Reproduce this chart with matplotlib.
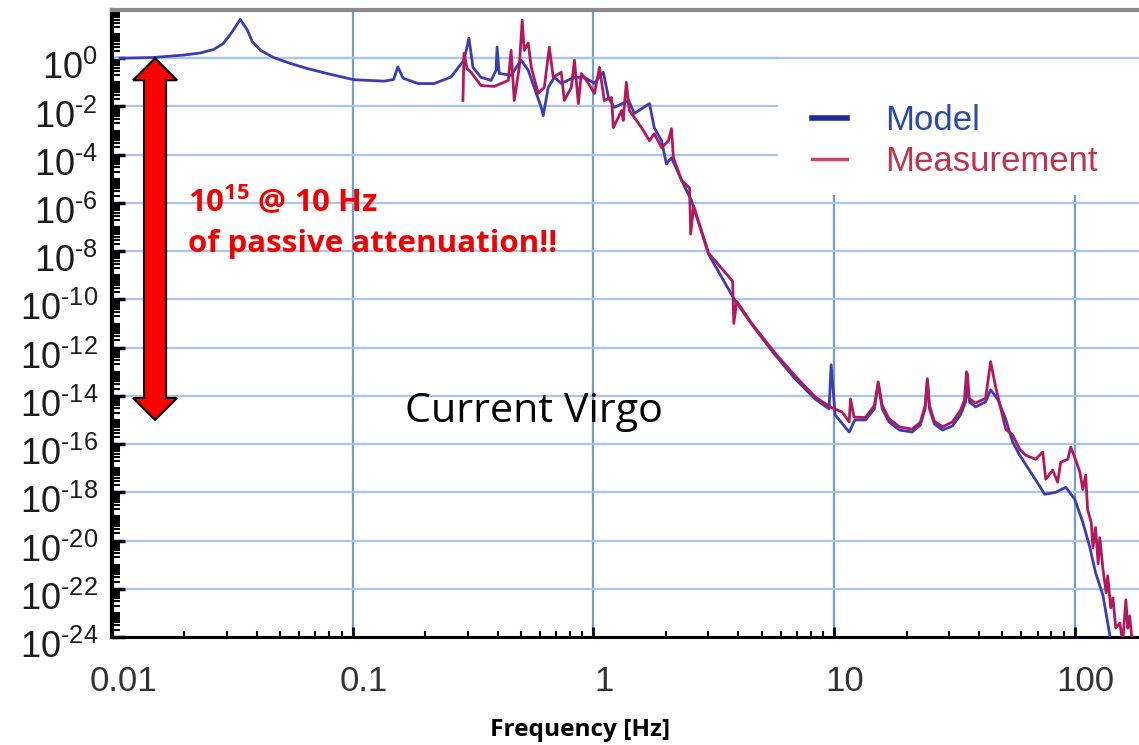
import numpy as np
import matplotlib
matplotlib.use("Agg")
import matplotlib.pyplot as plt
from matplotlib.lines import Line2D
from matplotlib.patches import Polygon, Rectangle
from matplotlib.ticker import LogLocator, NullFormatter
from matplotlib.transforms import IdentityTransform, ScaledTranslation

# transfer function: frequency [Hz], log10 of amplitude
model_freq = [
    0.0108, 0.0148, 0.0198, 0.0233, 0.0264, 0.029, 0.0316, 0.0341, 0.0365, 0.0383,
    0.0414, 0.0469, 0.0552, 0.065, 0.0787, 0.101, 0.135, 0.148, 0.154, 0.162,
    0.187, 0.218, 0.256, 0.290, 0.304, 0.316, 0.341, 0.376, 0.394, 0.398,
    0.406, 0.455, 0.501, 0.536, 0.607, 0.619, 0.649, 0.688, 0.735, 0.834,
    0.917, 1.01, 1.10, 1.155, 1.22, 1.40, 1.48, 1.71, 1.79, 1.92,
    2.01, 2.11, 2.33, 2.56, 3.01, 3.83, 4.55, 5.67, 6.88, 8.33,
    9.53, 9.72, 10.1, 11.55, 12.2, 13.5, 14.7, 15.25, 15.85, 16.9,
    18.7, 21.1, 22.8, 23.9, 24.4, 24.9, 26.1, 28.2, 31.0, 33.5,
    35.2, 35.8, 36.5, 38.7, 42.6, 44.7, 47.8, 51.6, 55.2, 59.0,
    66.8, 75.0, 83.4, 91.7, 100, 108, 115, 122, 131, 140,
    144,
]
model_log_amp = [
    0.0, 0.03, 0.13, 0.22, 0.36, 0.61, 1.1, 1.61, 1.17, 0.68,
    0.33, 0.03, -0.22, -0.43, -0.64, -0.89, -0.95, -0.88, -0.36, -0.83,
    -1.05, -1.05, -0.78, -0.08, 0.83, -0.38, -0.79, -0.92, -0.5, 0.46,
    -0.63, -0.71, -0.08, -0.5, -2.04, -2.38, -1.21, -0.79, -1.04, -0.79,
    -0.79, -1.04, -0.58, -1.63, -2.04, -1.75, -2.29, -1.88, -2.88, -3.42,
    -4.38, -4.13, -5.08, -5.92, -8.13, -9.96, -11.04, -12.29, -13.29, -14.13,
    -14.54, -12.71, -14.79, -15.5, -15.0, -15.0, -14.54, -13.5, -14.54, -15.08,
    -15.42, -15.5, -15.21, -14.54, -13.33, -14.54, -15.17, -15.42, -15.25, -14.79,
    -14.25, -13.08, -14.25, -14.46, -14.25, -13.75, -14.13, -14.96, -15.92, -16.46,
    -17.29, -18.08, -18.0, -17.79, -18.29, -19.25, -20.21, -21.33, -22.29, -23.96,
    -24.5,
]

meas_freq = [
    0.287, 0.290, 0.2985, 0.310, 0.341, 0.387, 0.443, 0.455, 0.469, 0.492,
    0.506, 0.516, 0.536, 0.552, 0.590, 0.625, 0.656, 0.681, 0.735, 0.757,
    0.81, 0.834, 0.866, 0.891, 0.953, 1.01, 1.06, 1.11, 1.19, 1.21,
    1.31, 1.33, 1.37, 1.41, 1.585, 1.71, 1.79, 1.92, 2.05, 2.11,
    2.15, 2.33, 2.51, 2.535, 2.61, 3.01, 3.79, 3.83, 3.94, 4.55,
    5.67, 6.88, 8.33, 9.63, 10.8, 11.55, 11.7, 12.1, 13.5, 14.7,
    15.25, 15.85, 16.9, 18.7, 21.1, 22.8, 23.9, 24.4, 24.9, 26.1,
    28.2, 31.0, 33.5, 34.8, 35.5, 36.3, 38.7, 42.6, 44.7, 46.9,
    51.6, 55.2, 59.0, 62.5, 68.8, 73.6, 75.7, 80.9, 84.9, 87.4,
    93.5, 96.2, 101, 105, 108, 111, 113, 117, 119, 122,
    125, 127, 131, 135, 137, 141, 144, 148, 154, 158,
    163, 166, 169, 175,
]
meas_log_amp = [
    -1.75, 0.21, -0.42, -0.58, -1.13, -1.17, -0.92, 0.33, -1.75, -0.38,
    1.58, 0.33, 0.63, -0.38, -1.46, -1.21, 0.46, -0.79, -0.58, -1.75,
    -1.21, -0.08, -1.88, -0.63, -1.04, -1.46, -0.38, -1.75, -1.63, -2.88,
    -2.17, -2.58, -1.0, -2.17, -2.88, -3.42, -3.13, -3.71, -3.42, -2.92,
    -4.13, -5.08, -5.38, -7.29, -6.13, -8.08, -9.25, -11.0, -10.08, -11.0,
    -12.21, -13.17, -14.04, -14.46, -14.67, -15.08, -14.13, -14.88, -14.9, -14.4,
    -13.42, -14.4, -14.95, -15.29, -15.38, -15.1, -14.4, -13.29, -14.4, -15.05,
    -15.29, -15.08, -14.6, -14.17, -13.0, -14.1, -14.3, -14.1, -12.58, -13.63,
    -15.38, -15.63, -16.21, -16.46, -16.63, -16.33, -17.46, -17.08, -17.58, -16.75,
    -16.63, -16.13, -16.67, -17.17, -17.88, -17.29, -18.71, -19.25, -20.3, -19.46,
    -20.96, -19.88, -21.21, -22.17, -21.46, -22.79, -22.38, -23.63, -23.42, -24.25,
    -22.46, -23.63, -23.13, -24.67,
]

x_ticks = [0.01, 0.1, 1, 10, 100]
x_tick_labels = ["0.01", "0.1", "1", "10", "100"]
y_exponents = list(range(0, -25, -2))

arrow_freq = 0.0151
arrow_top, arrow_bottom = 1e0, 1e-15

plt.rcParams["mathtext.fontset"] = "custom"
plt.rcParams["mathtext.rm"] = "Liberation Sans"
plt.rcParams["mathtext.bf"] = "Open Sans:bold"

W, H = 1139, 745
GRID_H = "#a9c6ea"
fig = plt.figure(figsize=(W / 100, H / 100), dpi=100)
ax = fig.add_axes([112 / W, 1 - 637 / H, 1027 / W, 627 / H])
ax.set_xscale("log")
ax.set_yscale("log")
ax.set_xlim(0.01, 10 ** (-2 + 1027 / 240.7))
ax.set_ylim(1e-24, 1e2)
ax.set_axisbelow(True)


def exp_label(e):
    # short hyphen instead of the long math minus, as in the original figure
    if e < 0:
        return r"$\mathregular{10^{\text{-}%d}}$" % (-e)
    return r"$\mathregular{10^{%d}}$" % e


ax.set_xticks(x_ticks)
ax.set_xticklabels(x_tick_labels, fontfamily="Liberation Sans")
ax.set_yticks([10.0 ** e for e in y_exponents])
ax.set_yticklabels([exp_label(e) for e in y_exponents], fontfamily="Liberation Sans")
ax.yaxis.set_minor_locator(LogLocator(base=10, subs=np.arange(1, 10), numticks=400))
ax.yaxis.set_minor_formatter(NullFormatter())
ax.xaxis.set_minor_locator(LogLocator(base=10, subs=np.arange(2, 10), numticks=50))
ax.xaxis.set_minor_formatter(NullFormatter())

ax.tick_params(axis="y", which="major", direction="in", length=9, width=2.5,
               labelsize=26, pad=10, labelcolor="#1c1c1c")
ax.tick_params(axis="y", which="minor", direction="in", length=6, width=1.5)
ax.tick_params(axis="x", which="major", direction="in", length=7, width=2,
               labelsize=25, pad=20, labelcolor="#333333")
ax.tick_params(axis="x", which="minor", direction="in", length=4, width=1.5)
x_shift = ScaledTranslation(0.11, 0, fig.dpi_scale_trans)
for lbl in ax.get_xticklabels():
    lbl.set_transform(lbl.get_transform() + x_shift)
y_shift = ScaledTranslation(0, -0.07, fig.dpi_scale_trans)
for lbl in ax.get_yticklabels():
    lbl.set_transform(lbl.get_transform() + y_shift)

ax.grid(which="major", axis="y", color=GRID_H, lw=1.6)
ax.grid(which="major", axis="x", color="#6f9fd6", lw=1.6)

ax.spines["left"].set_linewidth(3)
ax.spines["bottom"].set_linewidth(2.2)
ax.spines["top"].set_color("#8a8a8a")
ax.spines["top"].set_linewidth(3)
ax.spines["right"].set_visible(False)

# white patch behind the legend hides part of the grid, like in the original
ax.add_patch(Rectangle((0.6485, 0.705), 0.36, 0.30, transform=ax.transAxes,
                       facecolor="white", edgecolor="none", zorder=1))
ax.axhline(1.0, color=GRID_H, lw=1.6, zorder=1.1)

ax.plot(model_freq, 10.0 ** np.array(model_log_amp), color="#3c3cb4", lw=2.0, zorder=3)
ax.plot(meas_freq, 10.0 ** np.array(meas_log_amp), color="#b5185a", lw=2.0, zorder=4)

handles = [Line2D([], [], color="#1d2a9e", lw=4),
           Line2D([], [], color="#c8466a", lw=2.5)]
ax.legend(handles, ["Model", "Measurement"], loc="upper left",
          bbox_to_anchor=(0.6816, 0.85), frameon=False, borderpad=0,
          borderaxespad=0, handlelength=1.0, handletextpad=1.1,
          labelspacing=0.22, prop={"family": "Liberation Sans", "size": 25},
          labelcolor=["#2b4aa8", "#c0324e"])

# double arrow: 10^15 of attenuation
x0, y_top = ax.transData.transform((arrow_freq, arrow_top))
_, y_bot = ax.transData.transform((arrow_freq, arrow_bottom))
hl, hw, sw = 22, 22, 11
pts = [(x0, y_top), (x0 + hw, y_top - hl), (x0 + sw, y_top - hl),
       (x0 + sw, y_bot + hl), (x0 + hw, y_bot + hl), (x0, y_bot),
       (x0 - hw, y_bot + hl), (x0 - sw, y_bot + hl), (x0 - sw, y_top - hl),
       (x0 - hw, y_top - hl)]
ax.add_patch(Polygon(pts, closed=True, transform=IdentityTransform(),
                     facecolor="#ff0000", edgecolor="black", lw=1.5, zorder=5))

fig.canvas.draw()
renderer = fig.canvas.get_renderer()


def fit_text(t, width_px):
    w = t.get_window_extent(renderer).width
    t.set_fontsize(t.get_fontsize() * width_px / w)


t1 = fig.text(188 / W, 1 - 211 / H, r"$\mathbf{10^{15}}$ @ 10 Hz", color="#f20000",
              fontfamily="Open Sans", fontweight="bold", fontsize=20, va="baseline")
t2 = fig.text(188 / W, 1 - 252 / H, "of passive attenuation!!", color="#f20000",
              fontfamily="Open Sans", fontweight="bold", fontsize=20, va="baseline")
fit_text(t2, 369)
t1.set_fontsize(t2.get_fontsize())
t3 = fig.text(405 / W, 1 - 422 / H, "Current Virgo", color="black",
              fontfamily="Open Sans", fontsize=28, va="baseline")
fit_text(t3, 258)
t4 = fig.text(580 / W, 1 - 730 / H, "Frequency [Hz]", color="black",
              fontfamily="Open Sans", fontweight="bold", fontsize=15,
              ha="center", va="center")
fit_text(t4, 180)

fig.savefig("out.png", dpi=100, facecolor="white")
